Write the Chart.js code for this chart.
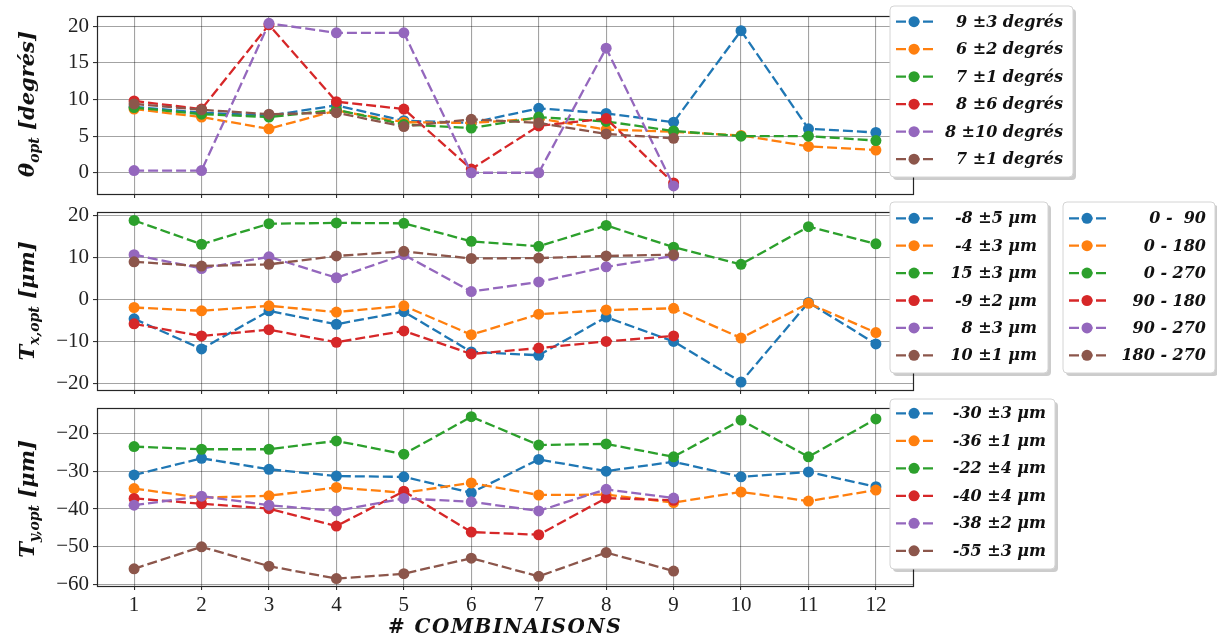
<!DOCTYPE html>
<html>
<head>
<meta charset="utf-8">
<script src="https://cdn.jsdelivr.net/npm/chart.js@4.4.0/dist/chart.umd.min.js"></script>
<style>
  html, body { margin: 0; padding: 0; background: #fff; }
  #wrap { position: relative; width: 1217px; height: 644px; }
  canvas { position: absolute; left: 0; }
</style>
</head>
<body>
<div id="wrap">
  <canvas id="cTheta" width="1217" height="200" style="top:0px"></canvas>
  <canvas id="cTx" width="1217" height="196" style="top:200px"></canvas>
  <canvas id="cTy" width="1217" height="248" style="top:396px"></canvas>
</div>
<script>
// axe commun
const combinaisons = [1, 2, 3, 4, 5, 6, 7, 8, 9, 10, 11, 12];
const couleurs = ['#1f77b4', '#ff7f0e', '#2ca02c', '#d62728', '#9467bd', '#8c564b'];

// theta_opt (degrés)
const thetaBleu   = [9.0, 8.2, 7.8, 9.2, 7.1, 6.8, 8.8, 8.1, 6.9, 19.4, 6.0, 5.5];
const thetaOrange = [8.7, 7.6, 6.0, 8.5, 6.9, 6.8, 7.4, 5.9, 5.6, 5.1, 3.6, 3.1];
const thetaVert   = [8.9, 8.0, 7.6, 8.6, 6.6, 6.1, 7.6, 7.0, 5.7, 5.0, 5.0, 4.4];
const thetaRouge  = [9.8, 8.7, 20.2, 9.7, 8.7, 0.5, 6.4, 7.4, -1.4];
const thetaViolet = [0.3, 0.3, 20.4, 19.1, 19.1, 0.0, 0.0, 17.0, -1.8];
const thetaMarron = [9.4, 8.6, 8.0, 8.2, 6.3, 7.3, 6.8, 5.3, 4.7];

// Tx_opt (µm)
const txBleu   = [-4.6, -11.8, -2.7, -5.9, -2.9, -12.5, -13.3, -4.2, -10.0, -19.7, -0.7, -10.6];
const txOrange = [-1.9, -2.7, -1.5, -3.0, -1.5, -8.4, -3.5, -2.5, -2.1, -9.2, -0.9, -7.9];
const txVert   = [18.9, 13.2, 18.1, 18.3, 18.2, 13.9, 12.7, 17.7, 12.5, 8.4, 17.4, 13.3];
const txRouge  = [-5.8, -8.7, -7.2, -10.2, -7.5, -13.0, -11.6, -10.0, -8.7];
const txViolet = [10.7, 7.4, 10.2, 5.2, 10.7, 1.9, 4.2, 7.8, 10.4];
const txMarron = [9.0, 8.0, 8.4, 10.4, 11.5, 9.8, 9.9, 10.4, 10.7];

// Ty_opt (µm)
const tyBleu   = [-31.0, -26.6, -29.5, -31.3, -31.5, -35.7, -26.9, -30.0, -27.5, -31.5, -30.2, -34.1];
const tyOrange = [-34.6, -37.0, -36.5, -34.3, -35.7, -33.1, -36.3, -36.2, -38.3, -35.5, -37.9, -35.0];
const tyVert   = [-23.5, -24.2, -24.2, -22.0, -25.5, -15.6, -23.1, -22.8, -26.2, -16.5, -26.2, -16.2];
const tyRouge  = [-37.2, -38.6, -39.9, -44.5, -35.3, -46.1, -46.8, -37.1, -37.7];
const tyViolet = [-39.0, -36.6, -39.0, -40.5, -37.2, -38.1, -40.5, -34.8, -37.1];
const tyMarron = [-55.8, -50.0, -55.1, -58.4, -57.1, -53.0, -57.8, -51.5, -56.4];

// légendes
const legendeTheta  = ['9 ±3 degrés', '6 ±2 degrés', '7 ±1 degrés', '8 ±6 degrés', '8 ±10 degrés', '7 ±1 degrés'];
const legendeTx     = ['-8 ±5 μm', '-4 ±3 μm', '15 ±3 μm', '-9 ±2 μm', '8 ±3 μm', '10 ±1 μm'];
const legendeAngles = ['0 -  90', '0 - 180', '0 - 270', '90 - 180', '90 - 270', '180 - 270'];
const legendeTy     = ['-30 ±3 μm', '-36 ±1 μm', '-22 ±4 μm', '-40 ±4 μm', '-38 ±2 μm', '-55 ±3 μm'];

// graduations
const ticksTheta = [0, 5, 10, 15, 20];
const ticksTx = [-20, -10, 0, 10, 20];
const ticksTy = [-60, -50, -40, -30, -20];

const FONT_TICK = '"Liberation Serif", serif';
const FONT_LEG = 'bold italic 16px "DejaVu Serif", serif';
const GRID = 'rgba(0,0,0,0.36)';

function moins(v) {
  return v < 0 ? '\u2212' + Math.abs(v) : String(v);
}

function datasets(series, labels) {
  return series.map((vals, i) => ({
    label: labels[i],
    data: vals.map((v, k) => ({ x: combinaisons[k], y: v })),
    borderColor: couleurs[i],
    backgroundColor: couleurs[i],
    borderWidth: 2.3,
    borderDash: [10, 4],
    pointRadius: 5.5,
    pointBorderWidth: 0,
    pointBackgroundColor: couleurs[i],
    tension: 0,
    order: series.length - i
  }));
}

// titre vertical avec indice
function titreVertical(ctx, parts, bx, cy) {
  ctx.save();
  ctx.translate(bx, cy);
  ctx.rotate(-Math.PI / 2);
  let total = 0;
  parts.forEach(p => { ctx.font = p.font; total += ctx.measureText(p.t).width; });
  let x = -total / 2;
  ctx.fillStyle = '#111';
  ctx.textBaseline = 'alphabetic';
  parts.forEach(p => {
    ctx.font = p.font;
    ctx.fillText(p.t, x, p.dy || 0);
    x += ctx.measureText(p.t).width;
  });
  ctx.restore();
}

// boîte de légende façon matplotlib
function legende(ctx, L) {
  ctx.save();
  const r = 4;
  const box = (x, y, w, h) => {
    ctx.beginPath();
    ctx.moveTo(x + r, y);
    ctx.arcTo(x + w, y, x + w, y + h, r);
    ctx.arcTo(x + w, y + h, x, y + h, r);
    ctx.arcTo(x, y + h, x, y, r);
    ctx.arcTo(x, y, x + w, y, r);
    ctx.closePath();
  };
  box(L.x + 3, L.y + 3, L.w, L.h);
  ctx.fillStyle = 'rgba(0,0,0,0.2)';
  ctx.fill();
  box(L.x, L.y, L.w, L.h);
  ctx.fillStyle = '#fff';
  ctx.fill();
  ctx.strokeStyle = '#d4d4d4';
  ctx.lineWidth = 1;
  ctx.stroke();

  L.labels.forEach((lab, i) => {
    const y = L.row0 + i * L.dy;
    ctx.strokeStyle = couleurs[i];
    ctx.lineWidth = 2.3;
    ctx.setLineDash([10, 3.5]);
    ctx.beginPath();
    ctx.moveTo(L.mx, y);
    ctx.lineTo(L.mx + 37, y);
    ctx.stroke();
    ctx.setLineDash([]);
    ctx.fillStyle = couleurs[i];
    ctx.beginPath();
    ctx.arc(L.mx + 18, y, 5.5, 0, Math.PI * 2);
    ctx.fill();
    ctx.fillStyle = '#111';
    ctx.font = FONT_LEG;
    ctx.textAlign = 'right';
    ctx.textBaseline = 'middle';
    ctx.fillText(lab, L.tx, y + 1);
  });
  ctx.restore();
}

function creer(id, series, labels, cfg) {
  const canvas = document.getElementById(id);
  const decor = {
    id: 'decor',
    afterDatasetsDraw(chart) {
      const { ctx, chartArea: a } = chart;
      ctx.save();
      ctx.strokeStyle = '#262626';
      ctx.lineWidth = 1.2;
      ctx.strokeRect(a.left + 0.5, a.top + 0.5, a.right - a.left, a.bottom - a.top);
      ctx.restore();
    },
    afterDraw(chart) {
      const ctx = chart.ctx;
      titreVertical(ctx, cfg.titre, 34, cfg.titreY);
      cfg.legendes.forEach(L => legende(ctx, L));
      if (cfg.xTitre) {
        ctx.save();
        ctx.font = 'bold italic 20px "DejaVu Serif", serif';
        ctx.letterSpacing = '1.5px';
        ctx.fillStyle = '#111';
        ctx.textAlign = 'center';
        ctx.textBaseline = 'middle';
        ctx.fillText(cfg.xTitre, 505, cfg.xTitreY);
        ctx.restore();
      }
    }
  };
  return new Chart(canvas, {
    type: 'line',
    data: { datasets: datasets(series, labels) },
    options: {
      responsive: false,
      animation: false,
      events: [],
      layout: { padding: { top: cfg.top, right: 304, left: 0, bottom: 0 } },
      plugins: { legend: { display: false }, tooltip: { enabled: false } },
      scales: {
        x: {
          type: 'linear',
          min: 0.45,
          max: 12.55,
          afterBuildTicks: s => { s.ticks = combinaisons.map(v => ({ value: v })); },
          afterFit: s => { s.height = cfg.xH; s.paddingLeft = 0; s.paddingRight = 0; },
          grid: { color: GRID, lineWidth: 1.1, tickColor: '#333', tickLength: 4 },
          border: { display: false },
          ticks: {
            display: cfg.xLabels,
            padding: 3,
            color: '#222',
            font: { family: FONT_TICK, size: 21 },
            maxRotation: 0,
            autoSkip: false
          }
        },
        y: {
          min: cfg.min,
          max: cfg.max,
          afterBuildTicks: s => { s.ticks = cfg.ticks.map(v => ({ value: v })); },
          afterFit: s => { s.width = 97; s.paddingTop = 0; s.paddingBottom = 0; },
          grid: { color: GRID, lineWidth: 1.1, tickColor: '#333', tickLength: 4 },
          border: { display: false },
          ticks: {
            padding: 4,
            color: '#222',
            font: { family: FONT_TICK, size: 21 },
            callback: v => moins(v)
          }
        }
      }
    },
    plugins: [decor]
  });
}

const TF = 'bold italic 21px "DejaVu Serif", serif';
const TS = 'bold italic 14px "DejaVu Serif", serif';

creer('cTheta',
  [thetaBleu, thetaOrange, thetaVert, thetaRouge, thetaViolet, thetaMarron], legendeTheta, {
    top: 16, xH: 6, xLabels: false, min: -2.9, max: 21.4, ticks: ticksTheta,
    titre: [{ t: 'θ', font: TF }, { t: 'opt', font: TS, dy: 5 }, { t: ' [degrés]', font: TF }],
    titreY: 104,
    legendes: [{ x: 890, y: 6, w: 183, h: 171, row0: 21.7, dy: 27.5, mx: 896, tx: 1063, labels: legendeTheta }]
  });

creer('cTx',
  [txBleu, txOrange, txVert, txRouge, txViolet, txMarron], legendeTx, {
    top: 12, xH: 6, xLabels: false, min: -21.6, max: 20.9, ticks: ticksTx,
    titre: [{ t: 'T', font: TF }, { t: 'x,opt', font: TS, dy: 5 }, { t: ' [μm]', font: TF }],
    titreY: 101,
    legendes: [
      { x: 890, y: 2, w: 158, h: 171, row0: 18.3, dy: 27.4, mx: 896, tx: 1037, labels: legendeTx },
      { x: 1063, y: 2, w: 152, h: 171, row0: 18.3, dy: 27.4, mx: 1069, tx: 1206, labels: legendeAngles }
    ]
  });

creer('cTy',
  [tyBleu, tyOrange, tyVert, tyRouge, tyViolet, tyMarron], legendeTy, {
    top: 12, xH: 58, xLabels: true, min: -60.35, max: -13.3, ticks: ticksTy,
    titre: [{ t: 'T', font: TF }, { t: 'y,opt', font: TS, dy: 5 }, { t: ' [μm]', font: TF }],
    titreY: 103,
    xTitre: '# COMBINAISONS', xTitreY: 232,
    legendes: [{ x: 890, y: 3, w: 165, h: 170, row0: 17.3, dy: 27.5, mx: 896, tx: 1046, labels: legendeTy }]
  });
</script>
</body>
</html>
